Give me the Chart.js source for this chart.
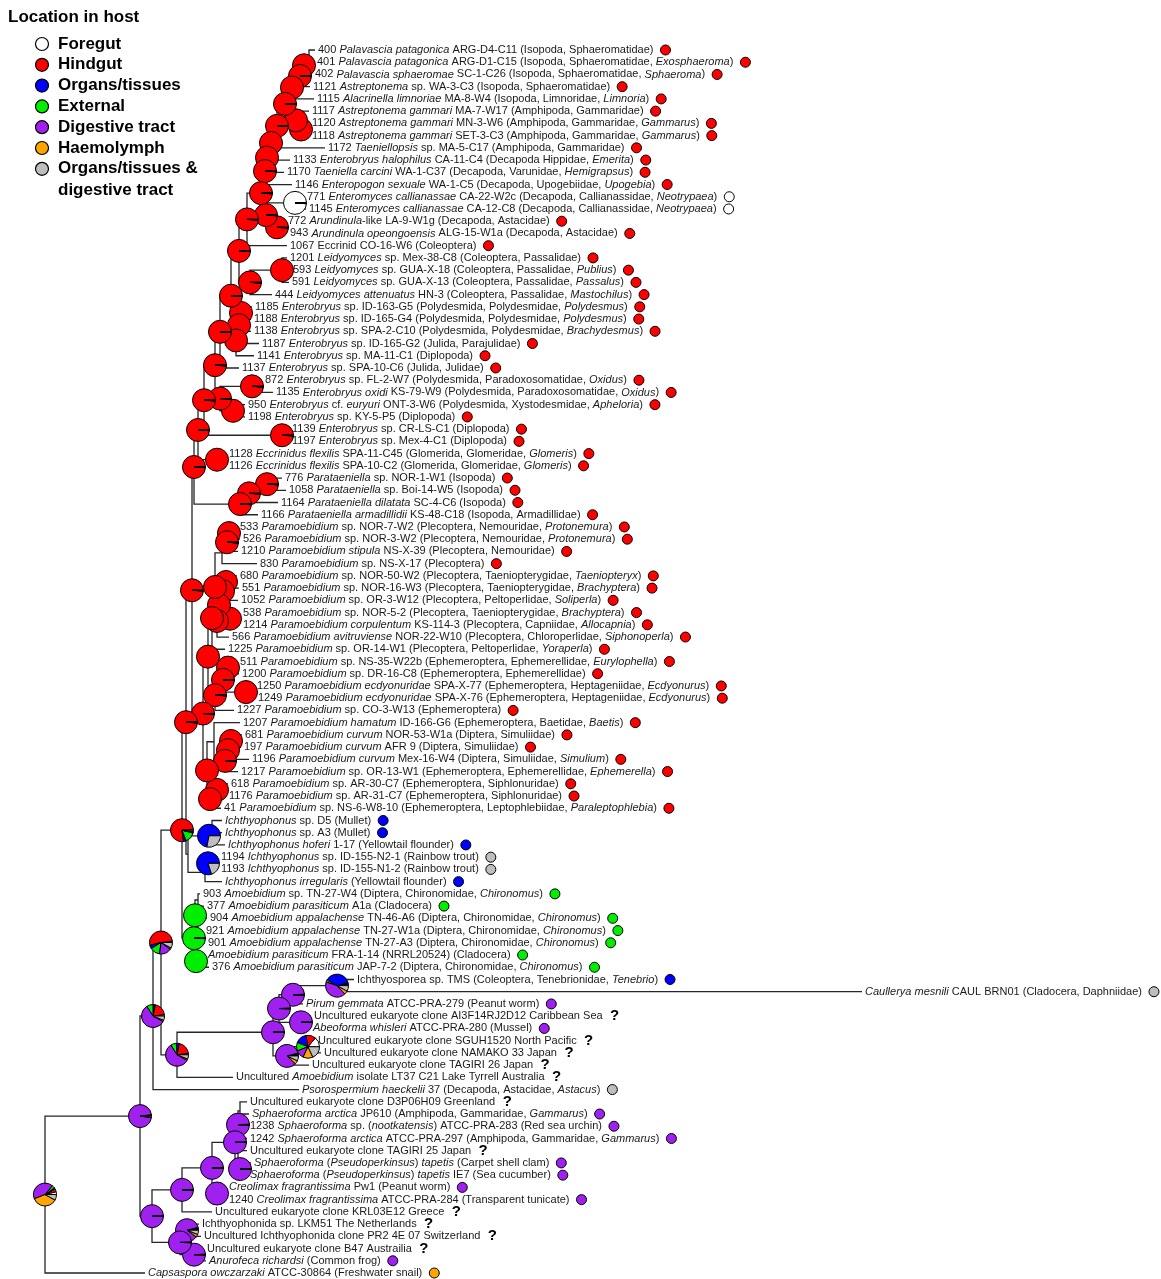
<!DOCTYPE html>
<html>
<head>
<meta charset="utf-8">
<script src="https://cdn.jsdelivr.net/npm/chart.js@4.4.1/dist/chart.umd.min.js"></script>
<style>
  html, body { margin: 0; padding: 0; background: #fff; }
  #wrap { width: 1161px; height: 1279px; }
</style>
</head>
<body>
<div id="wrap"><canvas id="tree" width="1161" height="1279"></canvas></div>
<script>
// Ancestral "location in host" states, in the order used for every pie
const stateNames = ['Foregut', 'Hindgut', 'Organs/tissues', 'External', 'Digestive tract', 'Haemolymph', 'Organs/tissues &|digestive tract'];
const stateCodes = ['F', 'H', 'O', 'E', 'D', 'M', 'G'];           // 'U' = unknown (drawn as "?")
const stateColors = ['#ffffff', '#ff0000', '#0000ff', '#00ee00', '#a020f0', '#ffa500', '#bebebe'];

// Tip labels; *...* marks italic runs
const tipLabels = [
  '400 *Palavascia patagonica* ARG-D4-C11 (Isopoda, Sphaeromatidae)',
  '401 *Palavascia patagonica* ARG-D1-C15 (Isopoda, Sphaeromatidae, *Exosphaeroma*)',
  '402 *Palavascia sphaeromae* SC-1-C26 (Isopoda, Sphaeromatidae, *Sphaeroma*)',
  '1121 *Astreptonema* sp. WA-3-C3 (Isopoda, Sphaeromatidae)',
  '1115 *Alacrinella limnoriae* MA-8-W4 (Isopoda, Limnoridae, *Limnoria*)',
  '1117 *Astreptonema gammari* MA-7-W17 (Amphipoda, Gammaridae)',
  '1120 *Astreptonema gammari* MN-3-W6 (Amphipoda, Gammaridae, *Gammarus*)',
  '1118 *Astreptonema gammari* SET-3-C3 (Amphipoda, Gammaridae, *Gammarus*)',
  '1172 *Taeniellopsis* sp. MA-5-C17 (Amphipoda, Gammaridae)',
  '1133 *Enterobryus halophilus* CA-11-C4 (Decapoda Hippidae, *Emerita*)',
  '1170 *Taeniella carcini* WA-1-C37 (Decapoda, Varunidae, *Hemigrapsus*)',
  '1146 *Enteropogon sexuale* WA-1-C5 (Decapoda, Upogebiidae, *Upogebia*)',
  '771 *Enteromyces callianassae* CA-22-W2c (Decapoda, Callianassidae, *Neotrypaea*)',
  '1145 *Enteromyces callianassae* CA-12-C8 (Decapoda, Callianassidae, *Neotrypaea*)',
  '772 *Arundinula*-like LA-9-W1g (Decapoda, Astacidae)',
  '943 *Arundinula opeongoensis* ALG-15-W1a (Decapoda, Astacidae)',
  '1067 Eccrinid CO-16-W6 (Coleoptera)',
  '1201 *Leidyomyces* sp. Mex-38-C8 (Coleoptera, Passalidae)',
  '593 *Leidyomyces* sp. GUA-X-18 (Coleoptera, Passalidae, *Publius*)',
  '591 *Leidyomyces* sp. GUA-X-13 (Coleoptera, Passalidae, *Passalus*)',
  '444 *Leidyomyces attenuatus* HN-3 (Coleoptera, Passalidae, *Mastochilus*)',
  '1185 *Enterobryus* sp. ID-163-G5 (Polydesmida, Polydesmidae, *Polydesmus*)',
  '1188 *Enterobryus* sp. ID-165-G4 (Polydesmida, Polydesmidae, *Polydesmus*)',
  '1138 *Enterobryus* sp. SPA-2-C10 (Polydesmida, Polydesmidae, *Brachydesmus*)',
  '1187 *Enterobryus* sp. ID-165-G2 (Julida, Parajulidae)',
  '1141 *Enterobryus* sp. MA-11-C1 (Diplopoda)',
  '1137 *Enterobryus* sp. SPA-10-C6 (Julida, Julidae)',
  '872 *Enterobryus* sp. FL-2-W7 (Polydesmida, Paradoxosomatidae, *Oxidus*)',
  '1135 *Enterobryus oxidi* KS-79-W9 (Polydesmida, Paradoxosomatidae, *Oxidus*)',
  '950 *Enterobryus* cf. *euryuri* ONT-3-W6 (Polydesmida, Xystodesmidae, *Apheloria*)',
  '1198 *Enterobryus* sp. KY-5-P5 (Diplopoda)',
  '1139 *Enterobryus* sp. CR-LS-C1 (Diplopoda)',
  '1197 *Enterobryus* sp. Mex-4-C1 (Diplopoda)',
  '1128 *Eccrinidus flexilis* SPA-11-C45 (Glomerida, Glomeridae, *Glomeris*)',
  '1126 *Eccrinidus flexilis* SPA-10-C2 (Glomerida, Glomeridae, *Glomeris*)',
  '776 *Parataeniella* sp. NOR-1-W1 (Isopoda)',
  '1058 *Parataeniella* sp. Boi-14-W5 (Isopoda)',
  '1164 *Parataeniella dilatata* SC-4-C6 (Isopoda)',
  '1166 *Parataeniella armadillidii* KS-48-C18 (Isopoda, Armadillidae)',
  '533 *Paramoebidium* sp. NOR-7-W2 (Plecoptera, Nemouridae, *Protonemura*)',
  '526 *Paramoebidium* sp. NOR-3-W2 (Plecoptera, Nemouridae, *Protonemura*)',
  '1210 *Paramoebidium stipula* NS-X-39 (Plecoptera, Nemouridae)',
  '830 *Paramoebidium* sp. NS-X-17 (Plecoptera)',
  '680 *Paramoebidium* sp. NOR-50-W2 (Plecoptera, Taeniopterygidae, *Taeniopteryx*)',
  '551 *Paramoebidium* sp. NOR-16-W3 (Plecoptera, Taeniopterygidae, *Brachyptera*)',
  '1052 *Paramoebidium* sp. OR-3-W12 (Plecoptera, Peltoperlidae, *Soliperla*)',
  '538 *Paramoebidium* sp. NOR-5-2 (Plecoptera, Taeniopterygidae, *Brachyptera*)',
  '1214 *Paramoebidium corpulentum* KS-114-3 (Plecoptera, Capniidae, *Allocapnia*)',
  '566 *Paramoebidium avitruviense* NOR-22-W10 (Plecoptera, Chloroperlidae, *Siphonoperla*)',
  '1225 *Paramoebidium* sp. OR-14-W1 (Plecoptera, Peltoperlidae, *Yoraperla*)',
  '511 *Paramoebidium* sp. NS-35-W22b (Ephemeroptera, Ephemerellidae, *Eurylophella*)',
  '1200 *Paramoebidium* sp. DR-16-C8 (Ephemeroptera, Ephemerellidae)',
  '1250 *Paramoebidium ecdyonuridae* SPA-X-77 (Ephemeroptera, Heptageniidae, *Ecdyonurus*)',
  '1249 *Paramoebidium ecdyonuridae* SPA-X-76 (Ephemeroptera, Heptageniidae, *Ecdyonurus*)',
  '1227 *Paramoebidium* sp. CO-3-W13 (Ephemeroptera)',
  '1207 *Paramoebidium hamatum* ID-166-G6 (Ephemeroptera, Baetidae, *Baetis*)',
  '681 *Paramoebidium curvum* NOR-53-W1a (Diptera, Simuliidae)',
  '197 *Paramoebidium curvum* AFR 9 (Diptera, Simuliidae)',
  '1196 *Paramoebidium curvum* Mex-16-W4 (Diptera, Simuliidae, *Simulium*)',
  '1217 *Paramoebidium* sp. OR-13-W1 (Ephemeroptera, Ephemerellidae, *Ephemerella*)',
  '618 *Paramoebidium* sp. AR-30-C7 (Ephemeroptera, Siphlonuridae)',
  '1176 *Paramoebidium* sp. AR-31-C7 (Ephemeroptera, Siphlonuridae)',
  '41 *Paramoebidium* sp. NS-6-W8-10 (Ephemeroptera, Leptophlebiidae, *Paraleptophlebia*)',
  '*Ichthyophonus* sp. D5 (Mullet)',
  '*Ichthyophonus* sp. A3 (Mullet)',
  '*Ichthyophonus hoferi* 1-17 (Yellowtail flounder)',
  '1194 *Ichthyophonus* sp. ID-155-N2-1 (Rainbow trout)',
  '1193 *Ichthyophonus* sp. ID-155-N1-2 (Rainbow trout)',
  '*Ichthyophonus irregularis* (Yellowtail flounder)',
  '903 *Amoebidium* sp. TN-27-W4 (Diptera, Chironomidae, *Chironomus*)',
  '377 *Amoebidium parasiticum* A1a (Cladocera)',
  '904 *Amoebidium appalachense* TN-46-A6 (Diptera, Chironomidae, *Chironomus*)',
  '921 *Amoebidium appalachense* TN-27-W1a (Diptera, Chironomidae, *Chironomus*)',
  '901 *Amoebidium appalachense* TN-27-A3 (Diptera, Chironomidae, *Chironomus*)',
  '*Amoebidium parasiticum* FRA-1-14 (NRRL20524) (Cladocera)',
  '376 *Amoebidium parasiticum* JAP-7-2 (Diptera, Chironomidae, *Chironomus*)',
  'Ichthyosporea sp. TMS (Coleoptera, Tenebrionidae, *Tenebrio*)',
  '*Caullerya mesnili* CAUL BRN01 (Cladocera, Daphniidae)',
  '*Pirum gemmata* ATCC-PRA-279 (Peanut worm)',
  'Uncultured eukaryote clone AI3F14RJ2D12 Caribbean Sea',
  '*Abeoforma whisleri* ATCC-PRA-280 (Mussel)',
  'Uncultured eukaryote clone SGUH1520 North Pacific',
  'Uncultured eukaryote clone NAMAKO 33 Japan',
  'Uncultured eukaryote clone TAGIRI 26 Japan',
  'Uncultured *Amoebidium* isolate LT37 C21 Lake Tyrrell Australia',
  '*Psorospermium haeckelii* 37 (Decapoda, Astacidae, *Astacus*)',
  'Uncultured eukaryote clone D3P06H09 Greenland',
  '*Sphaeroforma arctica* JP610 (Amphipoda, Gammaridae, *Gammarus*)',
  '1238 *Sphaeroforma* sp. (*nootkatensis*) ATCC-PRA-283 (Red sea urchin)',
  '1242 *Sphaeroforma arctica* ATCC-PRA-297 (Amphipoda, Gammaridae, *Gammarus*)',
  'Uncultured eukaryote clone TAGIRI 25 Japan',
  '*Sphaeroforma* (*Pseudoperkinsus*) *tapetis* (Carpet shell clam)',
  '*Sphaeroforma* (*Pseudoperkinsus*) *tapetis* IE7 (Sea cucumber)',
  '*Creolimax fragrantissima* Pw1 (Peanut worm)',
  '1240 *Creolimax fragrantissima* ATCC-PRA-284 (Transparent tunicate)',
  'Uncultured eukaryote clone KRL03E12 Greece',
  'Ichthyophonida sp. LKM51 The Netherlands',
  'Uncultured Ichthyophonida clone PR2 4E 07 Switzerland',
  'Uncultured eukaryote clone B47 Austrailia',
  '*Anurofeca richardsi* (Common frog)',
  '*Capsaspora owczarzaki* ATCC-30864 (Freshwater snail)'
];

// Observed location for each tip (codes as in stateCodes, U = unknown)
const tipStates = [
  'H','H','H','H','H','H','H','H','H','H','H','H','F','F','H','H','H','H','H','H',
  'H','H','H','H','H','H','H','H','H','H','H','H','H','H','H','H','H','H','H','H',
  'H','H','H','H','H','H','H','H','H','H','H','H','H','H','H','H','H','H','H','H',
  'H','H','H','O','O','O','G','G','O','E','E','E','E','E','E','E','O','G','D','U',
  'D','U','U','U','U','G','U','D','D','D','U','D','D','D','D','U','U','U','U','D',
  'M'
];

// Distance of each tip from the root
const tipDepths = [
  0.270, 0.269, 0.267, 0.265, 0.269, 0.264, 0.264, 0.264, 0.280, 0.245,
  0.239, 0.247, 0.259, 0.261, 0.240, 0.242, 0.242, 0.242, 0.245, 0.244,
  0.227, 0.207, 0.206, 0.206, 0.214, 0.209, 0.194, 0.217, 0.228, 0.200,
  0.200, 0.244, 0.244, 0.181, 0.181, 0.237, 0.241, 0.233, 0.213, 0.192,
  0.195, 0.193, 0.212, 0.192, 0.194, 0.193, 0.195, 0.195, 0.184, 0.180,
  0.192, 0.194, 0.209, 0.210, 0.189, 0.195, 0.197, 0.196, 0.204, 0.193,
  0.183, 0.181, 0.176, 0.177, 0.177, 0.180, 0.173, 0.173, 0.177, 0.155,
  0.159, 0.162, 0.158, 0.160, 0.160, 0.164, 0.309, 0.817, 0.258, 0.266,
  0.265, 0.270, 0.276, 0.264, 0.188, 0.254, 0.202, 0.204, 0.202, 0.202,
  0.202, 0.206, 0.202, 0.181, 0.181, 0.167, 0.154, 0.156, 0.159, 0.161,
  0.100
];

// Internal nodes: [name, depth, pie, ...children]; children are tip indices or node names
const clades = [
  ['A1', 0.264, null, 0, 1],
  ['A2', 0.259, 'R', 'A1', 2],
  ['A3', 0.255, 'Rs', 'A2', 3],
  ['A4', 0.247, 'R', 'A3', 4],
  ['A5', 0.256, 'R', 6, 7],
  ['A6', 0.251, 'R', 5, 'A5'],
  ['A7', 0.240, 'Rs', 'A4', 'A6'],
  ['A8', 0.232, 'Rs', 'A7', 8],
  ['A9', 0.226, 'R', 'A8', 9],
  ['A10', 0.222, 'R', 'A9', 10],
  ['A11', 0.220, 'Rs', 'A10', 11],
  ['W', 0.250, 'Ws', 12, 13],
  ['A12', 0.232, 'Rs', 14, 15],
  ['A13', 0.221, 'Rs', 'W', 'A12'],
  ['A14', 0.216, 'Rs', 'A11', 'A13'],
  ['A15', 0.202, 'Rs', 'A14', 16],
  ['B1', 0.237, 'R', 17, 18, 19],
  ['B2', 0.205, 'Rs', 'B1', 20],
  ['A16', 0.194, 'Rs', 'A15', 'B2'],
  ['C1', 0.196, 'R', 21, 22],
  ['C2', 0.195, null, 23, 24],
  ['C12', 0.194, 'R', 'C1', 'C2'],
  ['C3', 0.191, 'R', 'C12', 25],
  ['Cup', 0.186, 'Rs', 'A16', 'C3'],
  ['C4', 0.175, 'Rs', 'Cup', 26],
  ['H1', 0.207, 'Rs', 27, 28],
  ['H2', 0.188, 'R', 29, 30],
  ['H3', 0.175, 'Rs', 'H1', 'H2'],
  ['I1', 0.170, 'Rs', 'C4', 'H3'],
  ['E', 0.237, 'Rs', 31, 32],
  ['I2', 0.159, 'Rs', 'I1', 'E'],
  ['Ec', 0.172, 'R', 33, 34],
  ['D', 0.153, 'Rs', 'I2', 'Ec'],
  ['F1', 0.222, 'Rs', 35, 36],
  ['F2', 0.204, 'Rs', 'F1', 37],
  ['F3', 0.195, 'Rs', 'F2', 38],
  ['J', 0.149, 'Rs', 'D', 'F3'],
  ['K1', 0.184, 'R', 39, 40],
  ['K2', 0.182, 'Rs', 'K1', 41],
  ['K3', 0.177, null, 'K2', 42],
  ['K4', 0.181, 'R', 43, 44],
  ['K5', 0.178, 'R', 'K4', 45],
  ['K6', 0.185, 'R', 46, 47],
  ['K7', 0.174, 'R', 'K5', 'K6'],
  ['K8', 0.172, 'R', 'K7', 48],
  ['Kx', 0.170, 'R', 'K3', 'K8'],
  ['K9', 0.167, 'R', 'Kx', 49],
  ['L2', 0.183, 'R', 50, 51],
  ['L1', 0.201, 'R', 52, 53],
  ['L3', 0.178, 'Rs', 'L2', 'L1'],
  ['L4', 0.170, 'Rs', 'L3', 54],
  ['L5', 0.163, 'R', 'K9', 'L4'],
  ['M1', 0.186, 'R', 56, 57],
  ['M2', 0.183, 'R', 'M1', 58],
  ['M3', 0.180, 'Rs', 'M2', 59],
  ['M4', 0.169, null, 55, 'M3'],
  ['N1', 0.172, 'R', 60, 61],
  ['N2', 0.165, 'R', 'N1', 62],
  ['N3', 0.162, 'R', 'M4', 'N2'],
  ['O1', 0.158, 'Rs', 'L5', 'N3'],
  ['S1', 0.147, 'Rs', 'J', 'O1'],
  ['Ich1', 0.167, null, 63, 64],
  ['IchA', 0.164, 'BG1', 'Ich1', 65],
  ['Ich2', 0.163, 'BG2', 66, 67],
  ['IchB', 0.160, null, 'Ich2', 68],
  ['IchC', 0.143, null, 'IchA', 'IchB'],
  ['S2', 0.141, 'Rs', 'S1', 'IchC'],
  ['Am1', 0.153, null, 69, 70],
  ['Am2', 0.152, null, 71, 72, 73],
  ['AmA', 0.150, 'Gr', 'Am1', 'Am2'],
  ['Am3', 0.151, 'Gr', 74, 75],
  ['AmB', 0.149, 'Grs', 'AmA', 'Am3'],
  ['S3', 0.137, 'mixS3', 'S2', 'AmB'],
  ['Cau', 0.292, 'mixCau', 76, 77],
  ['Zp', 0.248, 'Ps', 'Cau', 78],
  ['Zq', 0.256, 'Ps', 79, 80],
  ['Za', 0.234, 'Ps', 'Zp', 'Zq'],
  ['Mu', 0.263, 'mixMulti', 81, 82],
  ['Zb', 0.242, 'mixZb', 'Mu', 83],
  ['Z', 0.228, 'Ps', 'Za', 'Zb'],
  ['Y', 0.132, 'mixY', 'Z', 84],
  ['S4', 0.116, 'mixS4', 'S3', 'Y'],
  ['S5', 0.108, 'mixS5', 'S4', 85],
  ['Sa', 0.197, null, 87, 88],
  ['Sb', 0.195, null, 86, 'Sa'],
  ['Sc', 0.193, 'Ps', 'Sb', 89],
  ['Sd', 0.195, 'Ps', 91, 92],
  ['Se', 0.193, null, 90, 'Sd'],
  ['Sf3', 0.190, 'Ps', 'Sc', 'Se'],
  ['Cr', 0.172, 'P', 93, 94],
  ['Sf2', 0.167, 'Ps', 'Sf3', 'Cr'],
  ['Sf1', 0.137, 'Ps', 'Sf2', 95],
  ['Ta', 0.142, 'mixTa', 96, 97],
  ['Tb', 0.149, 'Ps', 98, 99],
  ['Tc', 0.135, 'Ps', 'Ta', 'Tb'],
  ['SfL', 0.107, 'Ps', 'Sf1', 'Tc'],
  ['R1', 0.095, 'mixR1', 'S5', 'SfL'],
  ['root', 0.000, 'mixRoot', 'R1', 100]
];

// Marginal state probabilities at nodes (Foregut, Hindgut, Organs, External, Digestive, Haemolymph, Organs+digestive)
const pieShares = {
  R:        [0, 1, 0, 0, 0, 0, 0],
  Rs:       [0.002, 0.988, 0.002, 0.002, 0.002, 0.002, 0.002],
  Ws:       [0.988, 0.002, 0.002, 0.002, 0.002, 0.002, 0.002],
  Gr:       [0, 0, 0, 1, 0, 0, 0],
  Grs:      [0.002, 0.002, 0.002, 0.988, 0.002, 0.002, 0.002],
  P:        [0, 0, 0, 0, 1, 0, 0],
  Ps:       [0.002, 0.002, 0.002, 0.002, 0.988, 0.002, 0.002],
  BG1:      [0, 0, 0.72, 0, 0, 0, 0.28],
  BG2:      [0, 0, 0.80, 0, 0, 0, 0.20],
  mixS3:    [0.01, 0.76, 0.04, 0.15, 0.01, 0.01, 0.02],
  mixS4:    [0.02, 0.52, 0.05, 0.14, 0.17, 0.02, 0.08],
  mixS5:    [0.02, 0.20, 0.03, 0.09, 0.58, 0.02, 0.06],
  mixY:     [0.02, 0.20, 0.04, 0.08, 0.58, 0.02, 0.06],
  mixCau:   [0.02, 0.02, 0.38, 0.03, 0.42, 0.05, 0.08],
  mixMulti: [0.14, 0.14, 0.16, 0.12, 0.12, 0.14, 0.18],
  mixZb:    [0.01, 0.01, 0.01, 0.01, 0.84, 0.05, 0.07],
  mixTa:    [0.01, 0.01, 0.01, 0.01, 0.86, 0.04, 0.06],
  mixR1:    [0.005, 0.005, 0.005, 0.005, 0.96, 0.005, 0.015],
  mixRoot:  [0.04, 0.04, 0.02, 0.04, 0.42, 0.36, 0.08]
};

// ---- layout helpers ----
const X_MIN = -0.045, X_MAX = 1.116;
const Y_MIN = -4.088, Y_MAX = 100.49;
const CANVAS_W = 1161;
const pxPerUnit = CANVAS_W / (X_MAX - X_MIN);

const FONT_FAMILY = "'Liberation Sans', Arial, Helvetica, sans-serif";
const LABEL_SIZE = 11;
const LABEL_GAP = 3;     // px between branch end and label
const DOT_GAP = 12;      // px between label end and state dot centre
const PIE_R = 11.5;

function runs(label) {
  return label.split('*').map((t, i) => ({ text: t, italic: i % 2 === 1 })).filter(r => r.text.length);
}
function runFont(italic) {
  return (italic ? 'italic ' : '') + LABEL_SIZE + 'px ' + FONT_FAMILY;
}
const measureCtx = document.createElement('canvas').getContext('2d');
function labelWidth(label) {
  let w = 0;
  for (const r of runs(label)) { measureCtx.font = runFont(r.italic); w += measureCtx.measureText(r.text).width; }
  return w;
}

// Resolve node rows (middle of first and last child) and depths
const nodeInfo = {};
function childRow(c) { return typeof c === 'number' ? c : nodeInfo[c].row; }
function childDepth(c) { return typeof c === 'number' ? tipDepths[c] : nodeInfo[c].depth; }
for (const [name, depth, pie, ...kids] of clades) {
  const rows = kids.map(childRow);
  nodeInfo[name] = { depth, pie, kids, row: (rows[0] + rows[rows.length - 1]) / 2 };
}

// Branch segments as one broken polyline (elbows from parent to every child)
const branchPoints = [];
for (const name in nodeInfo) {
  const n = nodeInfo[name];
  for (const k of n.kids) {
    const r = childRow(k), d = childDepth(k);
    branchPoints.push({ x: n.depth, y: n.row }, { x: n.depth, y: r }, { x: d, y: r }, { x: d, y: null });
  }
}

// State dots placed after each label
const dotPoints = [], dotColors = [];
tipLabels.forEach((lab, i) => {
  const code = tipStates[i];
  if (code === 'U') return;
  const off = (LABEL_GAP + labelWidth(lab) + DOT_GAP) / pxPerUnit;
  dotPoints.push({ x: tipDepths[i] + off, y: i });
  dotColors.push(stateColors[stateCodes.indexOf(code)]);
});

const treeDecor = {
  id: 'treeDecor',
  afterDatasetsDraw(chart) {
    const ctx = chart.ctx, xs = chart.scales.x, ys = chart.scales.y;
    ctx.save();

    // node pies
    for (const name in nodeInfo) {
      const n = nodeInfo[name];
      if (!n.pie) continue;
      const cx = xs.getPixelForValue(n.depth), cy = ys.getPixelForValue(n.row);
      const shares = pieShares[n.pie];
      ctx.lineWidth = 1;
      ctx.strokeStyle = '#000';
      const nonzero = shares.filter(s => s > 0).length;
      if (nonzero === 1) {
        ctx.beginPath();
        ctx.arc(cx, cy, PIE_R, 0, Math.PI * 2);
        ctx.fillStyle = stateColors[shares.findIndex(s => s > 0)];
        ctx.fill();
        ctx.stroke();
        continue;
      }
      let a = 0;
      shares.forEach((s, k) => {
        if (s <= 0) return;
        const b = a + s * Math.PI * 2;
        ctx.beginPath();
        ctx.moveTo(cx, cy);
        ctx.arc(cx, cy, PIE_R, -a, -b, true);
        ctx.closePath();
        ctx.fillStyle = stateColors[k];
        ctx.fill();
        ctx.stroke();
        a = b;
      });
    }

    // tip labels and unknown-state marks
    ctx.textBaseline = 'middle';
    ctx.textAlign = 'left';
    tipLabels.forEach((lab, i) => {
      let x = xs.getPixelForValue(tipDepths[i]) + LABEL_GAP;
      const y = ys.getPixelForValue(i);
      ctx.fillStyle = '#1a1a1a';
      for (const r of runs(lab)) {
        ctx.font = runFont(r.italic);
        ctx.fillText(r.text, x, y);
        x += ctx.measureText(r.text).width;
      }
      if (tipStates[i] === 'U') {
        ctx.font = 'bold 15px ' + FONT_FAMILY;
        ctx.fillStyle = '#000';
        ctx.textAlign = 'center';
        ctx.fillText('?', x + DOT_GAP, y);
        ctx.textAlign = 'left';
      }
    });

    // legend
    ctx.fillStyle = '#000';
    ctx.font = 'bold 17px ' + FONT_FAMILY;
    ctx.fillText('Location in host', 8, 17);
    let ly = 44;
    stateNames.forEach((nm, k) => {
      ctx.beginPath();
      ctx.arc(42, ly, 6.5, 0, Math.PI * 2);
      ctx.fillStyle = stateColors[k];
      ctx.fill();
      ctx.lineWidth = 1.2;
      ctx.strokeStyle = '#000';
      ctx.stroke();
      ctx.fillStyle = '#000';
      ctx.font = 'bold 17px ' + FONT_FAMILY;
      nm.split('|').forEach((part, j) => ctx.fillText(part, 58, ly + j * 21.5));
      ly += 20.8;
    });
    ctx.restore();
  }
};

new Chart(document.getElementById('tree'), {
  type: 'scatter',
  data: {
    datasets: [
      {
        label: 'branches',
        data: branchPoints,
        showLine: true,
        spanGaps: false,
        borderColor: '#262626',
        borderWidth: 1.3,
        pointRadius: 0,
        pointHoverRadius: 0,
        fill: false,
        clip: false
      },
      {
        label: 'tip location',
        data: dotPoints,
        showLine: false,
        pointRadius: 5,
        pointHoverRadius: 5,
        pointBackgroundColor: dotColors,
        pointBorderColor: '#000',
        pointBorderWidth: 1,
        clip: false
      }
    ]
  },
  options: {
    responsive: false,
    devicePixelRatio: 1,
    animation: false,
    events: [],
    layout: { padding: 0, autoPadding: false },
    plugins: { legend: { display: false }, tooltip: { enabled: false } },
    scales: {
      x: { type: 'linear', min: X_MIN, max: X_MAX, display: false },
      y: { type: 'linear', min: Y_MIN, max: Y_MAX, reverse: true, display: false }
    }
  },
  plugins: [treeDecor]
});
</script>
</body>
</html>
